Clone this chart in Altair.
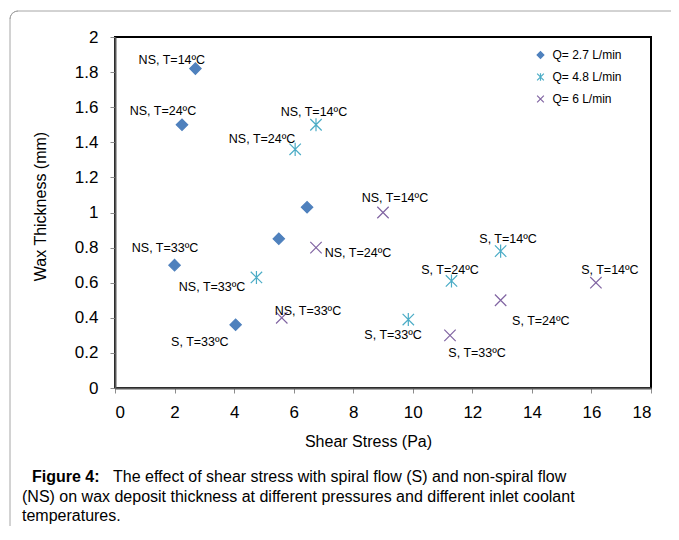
import altair as alt
import pandas as pd

FONT = "Liberation Sans"

series_names = ["Q= 2.7 L/min", "Q= 4.8 L/min", "Q= 6 L/min"]
series_fill = ["#4F81BD", "transparent", "transparent"]
series_stroke = ["#4F81BD", "#4BACC6", "#8064A2"]
ASTERISK = "M-1,-1L1,1M-1,1L1,-1M0,-1.15L0,1.15"
XMARK = "M-1,-1L1,1M-1,1L1,-1"
series_shapes = ["diamond", ASTERISK, XMARK]

# Q = 2.7 L/min
shear_27 = [2.7, 2.25, 6.45, 5.5, 2.0, 4.05]
thick_27 = [1.82, 1.50, 1.03, 0.85, 0.70, 0.36]
labels_27 = ["NS, T=14ºC", "NS, T=24ºC", "", "", "NS, T=33ºC", "S, T=33ºC"]
label_x_27 = [1.91, 1.61, None, None, 1.68, 2.85]
label_y_27 = [1.87, 1.58, None, None, 0.80, 0.26]

# Q = 4.8 L/min
shear_48 = [6.75, 6.05, 4.75, 9.85, 11.3, 12.95]
thick_48 = [1.50, 1.36, 0.63, 0.39, 0.61, 0.78]
labels_48 = ["NS, T=14ºC", "NS, T=24ºC", "NS, T=33ºC", "S, T=33ºC", "S, T=24ºC", "S, T=14ºC"]
label_x_48 = [6.68, 4.94, 3.26, 9.34, 11.25, 13.20]
label_y_48 = [1.57, 1.42, 0.575, 0.30, 0.67, 0.85]

# Q = 6 L/min
shear_6 = [9.0, 6.75, 5.6, 11.25, 12.95, 16.15]
thick_6 = [1.00, 0.80, 0.40, 0.30, 0.50, 0.60]
labels_6 = ["NS, T=14ºC", "NS, T=24ºC", "NS, T=33ºC", "S, T=33ºC", "S, T=24ºC", "S, T=14ºC"]
label_x_6 = [9.40, 8.16, 6.48, 12.16, 14.30, 16.62]
label_y_6 = [1.08, 0.77, 0.44, 0.20, 0.38, 0.67]

x_ticks = [0, 2, 4, 6, 8, 10, 12, 14, 16, 18]
y_ticks = [0, 0.2, 0.4, 0.6, 0.8, 1.0, 1.2, 1.4, 1.6, 1.8, 2.0]

caption_bold = "Figure 4:"
caption_lines = [
    "The effect of shear stress with spiral flow (S) and non-spiral flow",
    "(NS) on wax deposit thickness at different pressures and different inlet coolant",
    "temperatures.",
]

rows, lab_rows = [], []
for name, xs, ys, labs, lxs, lys in [
    (series_names[0], shear_27, thick_27, labels_27, label_x_27, label_y_27),
    (series_names[1], shear_48, thick_48, labels_48, label_x_48, label_y_48),
    (series_names[2], shear_6, thick_6, labels_6, label_x_6, label_y_6),
]:
    for x, y, lab, lx, ly in zip(xs, ys, labs, lxs, lys):
        rows.append({"shear": x, "thick": y, "series": name})
        if lab:
            lab_rows.append({"shear": lx, "thick": ly, "label": lab})

pts = pd.DataFrame(rows)
labs_df = pd.DataFrame(lab_rows)

x_axis = alt.Axis(values=x_ticks, title="Shear Stress (Pa)", labelPadding=11,
                  titleX=253, titleY=53, titleBaseline="middle")
y_axis = alt.Axis(values=y_ticks, format="~g", title="Wax Thickness (mm)", labelPadding=12,
                  titleX=-75, titleY=169, titleBaseline="middle", titleAngle=-90)
x_scale = alt.Scale(domain=[0, 18], nice=False)
y_scale = alt.Scale(domain=[0, 2], nice=False)

leg = alt.Legend(title=None)

points = alt.Chart(pts).mark_point(size=130, strokeWidth=1.2, opacity=1).encode(
    x=alt.X("shear:Q", scale=x_scale, axis=x_axis),
    y=alt.Y("thick:Q", scale=y_scale, axis=y_axis),
    shape=alt.Shape("series:N", scale=alt.Scale(domain=series_names, range=series_shapes), legend=leg),
    stroke=alt.Stroke("series:N", scale=alt.Scale(domain=series_names, range=series_stroke), legend=leg),
    fill=alt.Fill("series:N", scale=alt.Scale(domain=series_names, range=series_fill), legend=leg),
)

labels = alt.Chart(labs_df).mark_text(font=FONT, fontSize=12.5, color="black",
                                      align="center", baseline="middle").encode(
    x=alt.X("shear:Q", scale=x_scale, axis=x_axis),
    y=alt.Y("thick:Q", scale=y_scale, axis=y_axis),
    text="label:N",
)

one = pd.DataFrame({"k": [0]})
FRAME = "#a6a6a6"
frame_top = alt.Chart(one).mark_rule(stroke=FRAME, strokeWidth=1).encode(
    x=alt.value(-97), x2=alt.value(700), y=alt.value(-26)
)
frame_left = alt.Chart(one).mark_rule(stroke=FRAME, strokeWidth=1).encode(
    x=alt.value(-105), y=alt.value(-18), y2=alt.value(700)
)
frame_corner = alt.Chart(one).mark_arc(radius=8, radius2=8, fill="transparent",
                                       stroke=FRAME, strokeWidth=1).encode(
    x=alt.value(-97), y=alt.value(-18), theta=alt.value(4.7124), theta2=alt.value(6.2832)
)

cap_bold = alt.Chart(pd.DataFrame({"t": [caption_bold]})).mark_text(
    font=FONT, fontSize=16, fontWeight="bold", align="left", baseline="middle", color="black"
).encode(x=alt.value(-83), y=alt.value(440), text="t:N")

cap_layers = []
cap_x = [-2, -93, -93]
cap_y = [440, 460, 479]
for t, cx, cy in zip(caption_lines, cap_x, cap_y):
    cap_layers.append(
        alt.Chart(pd.DataFrame({"t": [t]})).mark_text(
            font=FONT, fontSize=16, align="left", baseline="middle", color="black"
        ).encode(x=alt.value(cx), y=alt.value(cy), text="t:N")
    )

chart = alt.layer(frame_top, frame_left, frame_corner, points, labels, cap_bold, *cap_layers).properties(
    width=536, height=351,
    autosize=alt.AutoSizeParams(type="none"),
    padding={"left": 107, "top": 29, "right": 20, "bottom": 138},
    background="white",
).configure_view(
    stroke="black", strokeWidth=2
).configure_axis(
    grid=False, domainColor="#595959", domainWidth=2, tickColor="#8c8c8c",
    tickSize=5, tickWidth=1, labelFont=FONT, labelFontSize=17, labelColor="black",
    titleFont=FONT, titleFontSize=16, titleColor="black", titleFontWeight="normal",
).configure_legend(
    orient="none", legendX=419.5, legendY=12, padding=0, rowPadding=9,
    labelFont=FONT, labelFontSize=12, labelColor="black", symbolSize=45,
    symbolStrokeWidth=1.2, labelOffset=6,
)

chart.save("out.html", embed_options={"renderer": "svg", "actions": False})
